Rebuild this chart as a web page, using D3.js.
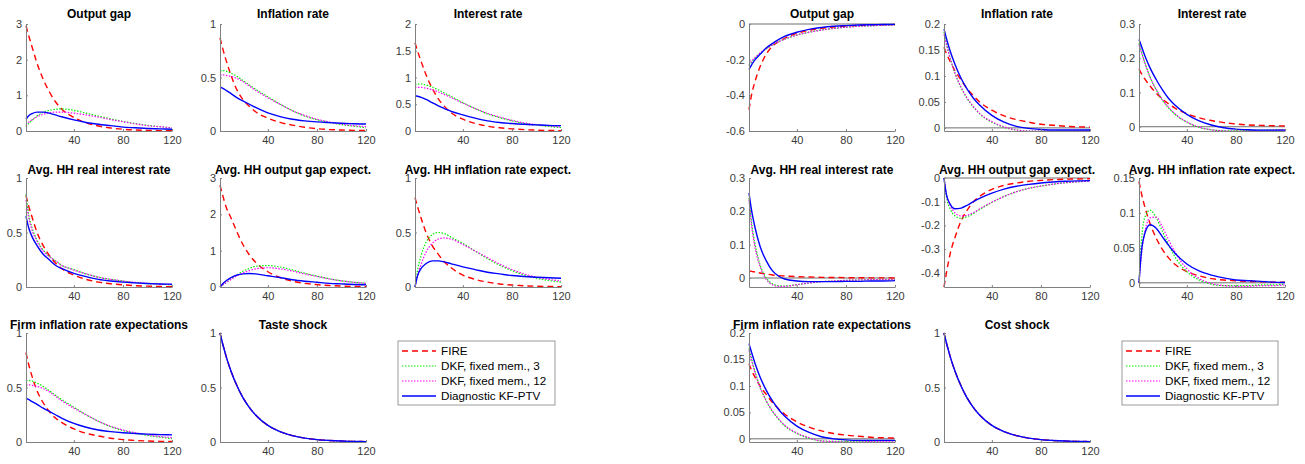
<!DOCTYPE html>
<html><head><meta charset="utf-8">
<script src="https://cdn.jsdelivr.net/npm/d3@7"></script>
<style>body{margin:0;background:#fff}svg{display:block;font-family:"Liberation Sans",Arial,Helvetica,sans-serif}</style>
</head><body><svg id="c" width="1305" height="464"></svg>
<script>
// ---- data ----
const periods = [1,3,6,10,15,20,25,30,40,50,60,70,80,90,100,110,120];
const seriesNames = ["FIRE","DKF, fixed mem., 3","DKF, fixed mem., 12","Diagnostic KF-PTV"];
const xTicks = [40,80,120];
// each panel: rows in order FIRE, DKF 3, DKF 12, KF-PTV

// Left block (taste shock)
const leftOutputGap = [
 [2.95,2.7,2.35,1.9,1.45,1.1,0.82,0.62,0.38,0.23,0.14,0.085,0.05,0.03,0.018,0.011,0.007],
 [0.12,0.2,0.3,0.42,0.52,0.58,0.61,0.62,0.58,0.5,0.42,0.34,0.27,0.21,0.16,0.12,0.09],
 [0.18,0.24,0.32,0.4,0.47,0.51,0.53,0.53,0.5,0.45,0.39,0.32,0.26,0.2,0.15,0.12,0.09],
 [0.33,0.42,0.49,0.53,0.53,0.5,0.45,0.4,0.31,0.24,0.19,0.15,0.11,0.09,0.07,0.06,0.05]];
const leftInflation = [
 [0.87,0.78,0.66,0.52,0.38,0.29,0.23,0.18,0.12,0.08,0.055,0.035,0.022,0.014,0.009,0.006,0.004],
 [0.56,0.565,0.56,0.54,0.51,0.47,0.43,0.39,0.32,0.25,0.19,0.14,0.105,0.08,0.06,0.045,0.03],
 [0.52,0.525,0.52,0.51,0.49,0.46,0.42,0.38,0.31,0.25,0.19,0.145,0.11,0.085,0.065,0.05,0.04],
 [0.41,0.4,0.38,0.35,0.31,0.28,0.25,0.22,0.17,0.135,0.11,0.095,0.085,0.078,0.072,0.068,0.065]];
const leftInterest = [
 [1.65,1.5,1.3,1.05,0.8,0.6,0.46,0.35,0.22,0.14,0.09,0.06,0.04,0.025,0.016,0.01,0.007],
 [0.86,0.875,0.88,0.86,0.82,0.77,0.71,0.65,0.53,0.42,0.32,0.25,0.19,0.14,0.11,0.085,0.065],
 [0.81,0.815,0.815,0.8,0.77,0.73,0.68,0.63,0.52,0.42,0.33,0.26,0.2,0.15,0.12,0.095,0.075],
 [0.66,0.65,0.63,0.59,0.53,0.47,0.42,0.37,0.3,0.24,0.19,0.16,0.14,0.125,0.115,0.105,0.1]];
const leftRealRate = [
 [0.84,0.75,0.64,0.5,0.38,0.29,0.22,0.17,0.11,0.07,0.045,0.03,0.02,0.012,0.008,0.005,0.003],
 [0.85,0.68,0.54,0.43,0.34,0.28,0.24,0.2,0.16,0.12,0.09,0.07,0.055,0.04,0.03,0.025,0.02],
 [0.8,0.65,0.52,0.42,0.33,0.28,0.24,0.2,0.155,0.12,0.09,0.07,0.055,0.042,0.033,0.027,0.022],
 [0.65,0.55,0.46,0.38,0.3,0.25,0.2,0.17,0.125,0.095,0.07,0.055,0.045,0.038,0.032,0.028,0.025]];
const leftOutputExp = [
 [2.8,2.55,2.2,1.9,1.5,1.15,0.88,0.68,0.42,0.26,0.16,0.1,0.065,0.04,0.025,0.016,0.01],
 [0,0.05,0.12,0.22,0.34,0.44,0.51,0.57,0.59,0.55,0.47,0.38,0.3,0.23,0.17,0.13,0.1],
 [0,0.05,0.12,0.21,0.31,0.39,0.45,0.5,0.53,0.5,0.44,0.36,0.29,0.22,0.17,0.13,0.1],
 [0,0.08,0.17,0.26,0.33,0.36,0.37,0.36,0.31,0.26,0.2,0.16,0.13,0.1,0.085,0.07,0.06]];
const leftInflExp = [
 [0.82,0.74,0.63,0.5,0.38,0.3,0.23,0.18,0.11,0.07,0.045,0.028,0.018,0.011,0.007,0.005,0.003],
 [0,0.15,0.29,0.41,0.48,0.5,0.49,0.46,0.4,0.33,0.26,0.2,0.15,0.11,0.08,0.06,0.045],
 [0,0.1,0.21,0.32,0.4,0.44,0.45,0.44,0.39,0.33,0.27,0.21,0.16,0.12,0.09,0.07,0.055],
 [0,0.1,0.17,0.215,0.24,0.24,0.23,0.215,0.185,0.16,0.135,0.12,0.105,0.097,0.09,0.085,0.08]];
const leftFirmExp = [
 [0.82,0.72,0.6,0.47,0.36,0.28,0.22,0.18,0.12,0.08,0.055,0.035,0.022,0.014,0.009,0.006,0.004],
 [0.56,0.565,0.56,0.54,0.51,0.47,0.43,0.39,0.32,0.25,0.19,0.14,0.105,0.08,0.06,0.045,0.03],
 [0.52,0.525,0.52,0.51,0.49,0.46,0.42,0.38,0.31,0.25,0.19,0.145,0.11,0.085,0.065,0.05,0.04],
 [0.4,0.39,0.37,0.345,0.31,0.28,0.25,0.22,0.17,0.135,0.11,0.095,0.085,0.078,0.072,0.068,0.065]];
const tasteShock = [1,0.908,0.786,0.649,0.512,0.401,0.316,0.248,0.153,0.095,0.059,0.036,0.022,0.014,0.0086,0.0053,0.0033];

// Right block (cost shock)
const rightOutputGap = [
 [-0.48,-0.4,-0.32,-0.24,-0.17,-0.125,-0.1,-0.08,-0.052,-0.035,-0.024,-0.017,-0.012,-0.008,-0.006,-0.004,-0.003],
 [-0.235,-0.215,-0.19,-0.165,-0.14,-0.118,-0.1,-0.085,-0.062,-0.046,-0.034,-0.025,-0.018,-0.013,-0.01,-0.007,-0.005],
 [-0.23,-0.21,-0.188,-0.163,-0.138,-0.117,-0.1,-0.085,-0.062,-0.046,-0.034,-0.025,-0.018,-0.013,-0.01,-0.007,-0.005],
 [-0.255,-0.23,-0.2,-0.17,-0.135,-0.11,-0.088,-0.07,-0.046,-0.03,-0.02,-0.013,-0.009,-0.006,-0.004,-0.003,-0.002]];
const rightInflation = [
 [0.155,0.143,0.128,0.11,0.092,0.075,0.062,0.05,0.034,0.023,0.016,0.011,0.007,0.005,0.003,0.002,0.0015],
 [0.185,0.163,0.135,0.105,0.077,0.056,0.04,0.027,0.011,0.001,-0.004,-0.006,-0.006,-0.006,-0.005,-0.005,-0.004],
 [0.18,0.16,0.134,0.105,0.078,0.057,0.041,0.028,0.012,0.002,-0.004,-0.006,-0.006,-0.006,-0.006,-0.005,-0.005],
 [0.19,0.172,0.148,0.122,0.095,0.074,0.057,0.044,0.024,0.011,0.003,-0.001,-0.003,-0.004,-0.004,-0.004,-0.004]];
const rightInterest = [
 [0.168,0.155,0.138,0.119,0.098,0.081,0.067,0.055,0.038,0.026,0.018,0.012,0.008,0.005,0.004,0.003,0.002],
 [0.245,0.22,0.185,0.145,0.108,0.078,0.055,0.037,0.013,-0.002,-0.009,-0.012,-0.012,-0.011,-0.01,-0.009,-0.008],
 [0.24,0.216,0.183,0.145,0.109,0.08,0.057,0.039,0.014,-0.001,-0.009,-0.012,-0.013,-0.012,-0.011,-0.01,-0.009],
 [0.255,0.235,0.205,0.172,0.138,0.108,0.083,0.064,0.036,0.017,0.005,-0.003,-0.007,-0.009,-0.01,-0.01,-0.01]];
const rightRealRate = [
 [0.022,0.02,0.018,0.015,0.012,0.009,0.007,0.006,0.004,0.003,0.002,0.0015,0.001,0.0007,0.0005,0.0003,0.0002],
 [0.24,0.17,0.1,0.04,0.0,-0.017,-0.023,-0.024,-0.02,-0.015,-0.011,-0.009,-0.007,-0.006,-0.005,-0.005,-0.004],
 [0.235,0.16,0.09,0.035,-0.004,-0.02,-0.025,-0.025,-0.02,-0.015,-0.011,-0.009,-0.007,-0.006,-0.005,-0.005,-0.004],
 [0.255,0.205,0.15,0.095,0.052,0.022,0.006,-0.003,-0.009,-0.011,-0.011,-0.011,-0.01,-0.01,-0.009,-0.009,-0.008]];
const rightOutputExp = [
 [-0.46,-0.4,-0.32,-0.25,-0.18,-0.135,-0.1,-0.078,-0.048,-0.031,-0.021,-0.014,-0.01,-0.007,-0.005,-0.004,-0.003],
 [0,-0.08,-0.13,-0.16,-0.17,-0.163,-0.15,-0.133,-0.103,-0.078,-0.058,-0.044,-0.034,-0.026,-0.02,-0.016,-0.013],
 [0,-0.07,-0.115,-0.147,-0.16,-0.157,-0.146,-0.131,-0.102,-0.078,-0.058,-0.044,-0.034,-0.026,-0.02,-0.016,-0.013],
 [0,-0.07,-0.11,-0.13,-0.127,-0.115,-0.1,-0.086,-0.064,-0.047,-0.035,-0.027,-0.021,-0.017,-0.014,-0.012,-0.011]];
const rightInflExp = [
 [0.145,0.128,0.107,0.085,0.064,0.048,0.036,0.027,0.016,0.01,0.006,0.004,0.003,0.002,0.0015,0.001,0.001],
 [0,0.06,0.095,0.104,0.093,0.074,0.055,0.038,0.016,0.004,-0.002,-0.004,-0.004,-0.004,-0.003,-0.003,-0.002],
 [0,0.04,0.075,0.093,0.094,0.08,0.062,0.045,0.02,0.006,-0.001,-0.004,-0.005,-0.005,-0.004,-0.004,-0.003],
 [0,0.045,0.072,0.083,0.078,0.066,0.054,0.043,0.027,0.017,0.011,0.007,0.004,0.003,0.002,0.001,0.0005]];
const rightFirmExp = [
 [0.142,0.13,0.116,0.1,0.084,0.069,0.057,0.047,0.032,0.022,0.015,0.01,0.007,0.005,0.003,0.002,0.0015],
 [0.172,0.152,0.126,0.098,0.072,0.052,0.037,0.025,0.01,0.001,-0.004,-0.005,-0.005,-0.005,-0.005,-0.004,-0.004],
 [0.168,0.149,0.124,0.097,0.072,0.053,0.038,0.026,0.011,0.002,-0.004,-0.005,-0.006,-0.006,-0.005,-0.005,-0.004],
 [0.18,0.164,0.142,0.117,0.092,0.072,0.056,0.043,0.024,0.012,0.004,0.0,-0.002,-0.003,-0.003,-0.003,-0.003]];
const costShock = [1,0.908,0.786,0.649,0.512,0.401,0.316,0.248,0.153,0.095,0.059,0.036,0.022,0.014,0.0086,0.0053,0.0033];

// ---- styles / layout ----
const colors = ["#ff0000","#00f000","#ff00ff","#0000ff"];
const dashes = ["6,4","1.5,1.5","1.5,1.5",null];
const widths = [1.4,1.2,1.2,1.4];
const colLeft = {L:[26,220,415], R:[749,944,1139]};
const plotW = 146;
const rowTB = [[24,131],[178,287],[333,442]];
const titleBase = [18,174,329];

const panels = [
 {g:"L",c:0,r:0,t:"Output gap",d:leftOutputGap,dom:[0,3],ticks:[0,1,2,3]},
 {g:"L",c:1,r:0,t:"Inflation rate",d:leftInflation,dom:[0,1],ticks:[0,0.5,1]},
 {g:"L",c:2,r:0,t:"Interest rate",d:leftInterest,dom:[0,2],ticks:[0,0.5,1,1.5,2]},
 {g:"L",c:0,r:1,t:"Avg. HH real interest rate",d:leftRealRate,dom:[0,1],ticks:[0,0.5,1]},
 {g:"L",c:1,r:1,t:"Avg. HH output gap expect.",d:leftOutputExp,dom:[0,3],ticks:[0,1,2,3]},
 {g:"L",c:2,r:1,t:"Avg. HH inflation rate expect.",d:leftInflExp,dom:[0,1],ticks:[0,0.5,1]},
 {g:"L",c:0,r:2,t:"Firm inflation rate expectations",d:leftFirmExp,dom:[0,1],ticks:[0,0.5,1]},
 {g:"L",c:1,r:2,t:"Taste shock",d:[tasteShock,tasteShock,tasteShock,tasteShock],dom:[0,1],ticks:[0,0.5,1]},
 {g:"R",c:0,r:0,t:"Output gap",d:rightOutputGap,dom:[-0.6,0],ticks:[-0.6,-0.4,-0.2,0]},
 {g:"R",c:1,r:0,t:"Inflation rate",d:rightInflation,dom:[-0.006,0.2],ticks:[0,0.05,0.1,0.15,0.2]},
 {g:"R",c:2,r:0,t:"Interest rate",d:rightInterest,dom:[-0.0125,0.3],ticks:[0,0.1,0.2,0.3]},
 {g:"R",c:0,r:1,t:"Avg. HH real interest rate",d:rightRealRate,dom:[-0.027,0.3],ticks:[0,0.1,0.2,0.3]},
 {g:"R",c:1,r:1,t:"Avg. HH output gap expect.",d:rightOutputExp,dom:[-0.46,0],ticks:[-0.4,-0.3,-0.2,-0.1,0]},
 {g:"R",c:2,r:1,t:"Avg. HH inflation rate expect.",d:rightInflExp,dom:[-0.006,0.15],ticks:[0,0.05,0.1,0.15]},
 {g:"R",c:0,r:2,t:"Firm inflation rate expectations",d:rightFirmExp,dom:[-0.006,0.2],ticks:[0,0.05,0.1,0.15,0.2]},
 {g:"R",c:1,r:2,t:"Cost shock",d:[costShock,costShock,costShock,costShock],dom:[0,1],ticks:[0,0.5,1]}
];

const svg = d3.select("#c");
const fmt = v => String(+v.toFixed(4));

panels.forEach(p => {
  const x0 = colLeft[p.g][p.c], x1 = x0 + plotW;
  const [yT, yB] = rowTB[p.r];
  const x = d3.scaleLinear().domain([1,120]).range([x0,x1]);
  const y = d3.scaleLinear().domain(p.dom).range([yB,yT]);
  const g = svg.append("g");

  if (p.dom[0] < 0) {
    g.append("line").attr("x1",x0).attr("x2",x1).attr("y1",y(0)).attr("y2",y(0))
      .attr("stroke","#6e6e6e").attr("stroke-width",1);
  }

  const line = d3.line().x((d,i)=>x(periods[i])).y(d=>y(d)).curve(d3.curveMonotoneX);
  p.d.forEach((s,k) => {
    g.append("path").attr("d",line(s)).attr("fill","none")
      .attr("stroke",colors[k]).attr("stroke-width",widths[k])
      .attr("stroke-dasharray",dashes[k]);
  });

  const xa = g.append("g").attr("transform",`translate(0,${yB})`)
    .call(d3.axisBottom(x).tickValues(xTicks).tickSizeInner(-2).tickSizeOuter(0).tickPadding(5));
  const ya = g.append("g").attr("transform",`translate(${x0},0)`)
    .call(d3.axisLeft(y).tickValues(p.ticks).tickFormat(fmt).tickSizeInner(-2).tickSizeOuter(0).tickPadding(4));
  [xa,ya].forEach(a => {
    a.select(".domain").attr("stroke","#808080");
    a.selectAll(".tick line").attr("stroke","#808080");
    a.selectAll("text").attr("fill","#3a3a3a").style("font-size","11px")
      .style("font-family",'"Liberation Sans",Arial,sans-serif');
  });

  g.append("text").attr("x",(x0+x1)/2).attr("y",titleBase[p.r]).attr("text-anchor","middle")
    .style("font-size","12px").style("font-weight","bold").attr("fill","#000").text(p.t);
});

// legends
[[398,341,157],[1122,341,156]].forEach(([lx,ly,lw]) => {
  const g = svg.append("g");
  g.append("rect").attr("x",lx).attr("y",ly).attr("width",lw).attr("height",64)
    .attr("fill","#fff").attr("stroke","#9a9a9a").attr("stroke-width",1);
  seriesNames.forEach((n,k) => {
    const yy = ly + 10 + k*15;
    g.append("line").attr("x1",lx+4).attr("x2",lx+38).attr("y1",yy).attr("y2",yy)
      .attr("stroke",colors[k]).attr("stroke-width",widths[k]).attr("stroke-dasharray",dashes[k]);
    g.append("text").attr("x",lx+43).attr("y",yy).attr("dy","0.35em")
      .style("font-size","11.7px").attr("fill","#000").text(n);
  });
});
</script></body></html>
